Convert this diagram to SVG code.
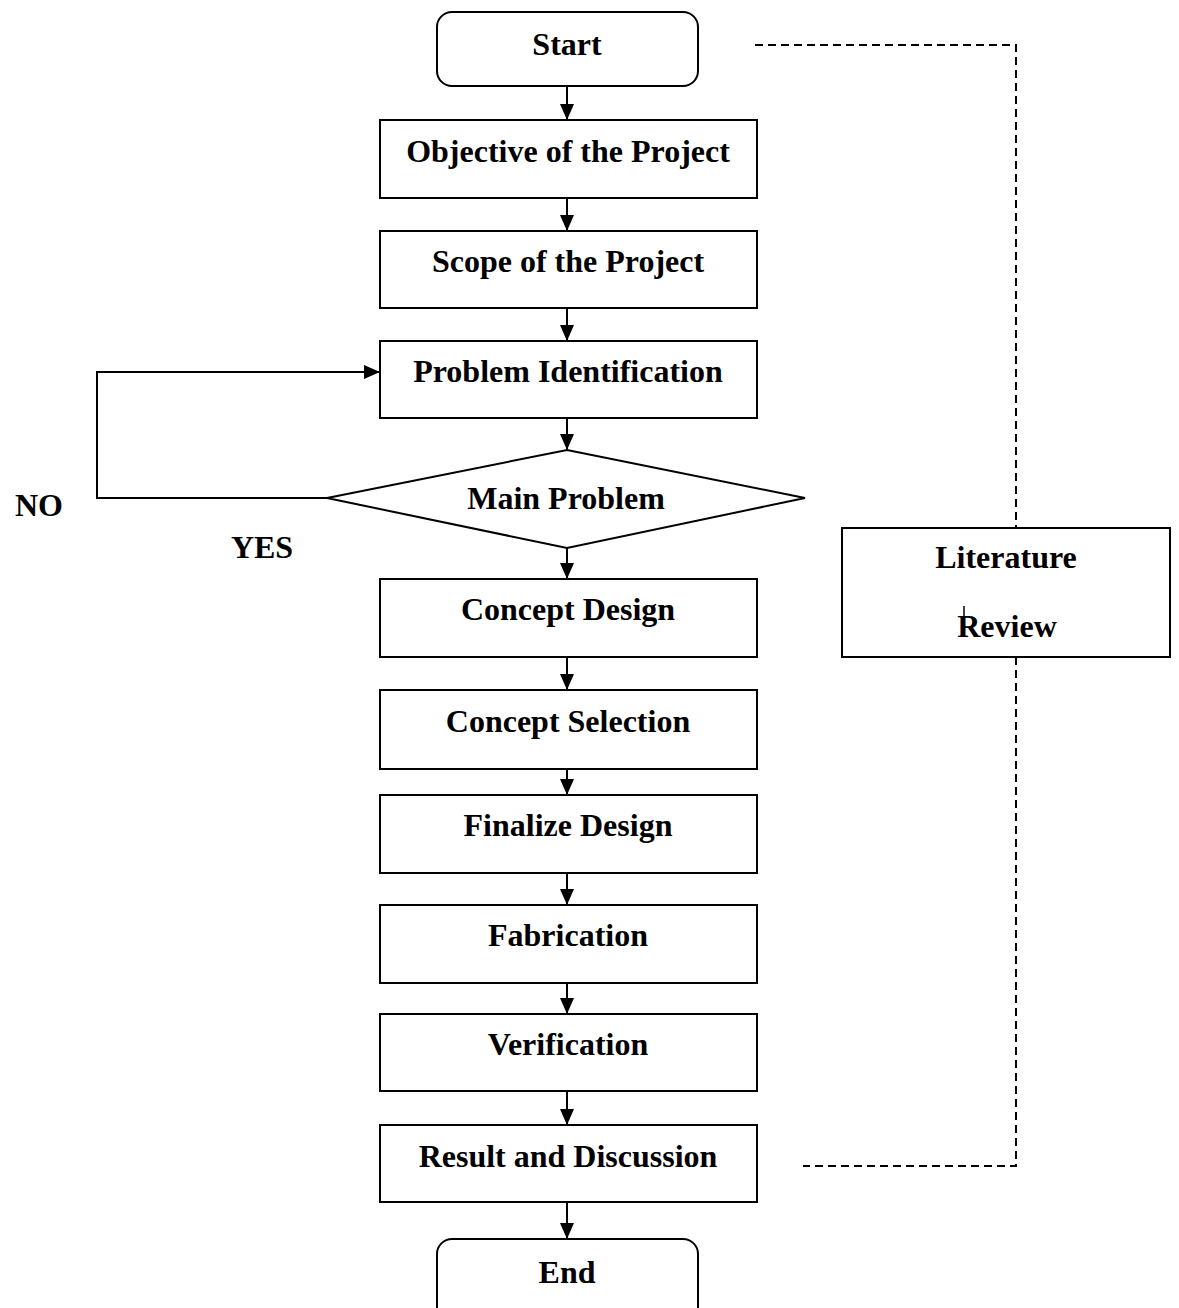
<svg xmlns="http://www.w3.org/2000/svg" width="1179" height="1308" viewBox="0 0 1179 1308">
<style>
.n{fill:#fff;stroke:#000;stroke-width:2}
.t{font-family:"Liberation Serif","Times New Roman",serif;font-weight:bold;font-size:32px;fill:#000;text-anchor:middle}
.c{fill:none;stroke:#000;stroke-width:2}
.d{fill:none;stroke:#000;stroke-width:2;stroke-dasharray:8 5}
</style>
<defs>
<marker id="ah" markerUnits="userSpaceOnUse" markerWidth="16" markerHeight="16" viewBox="0 0 16 16" refX="16" refY="8" orient="auto">
<path d="M0,1 L16,8 L0,15 z" fill="#000"/>
</marker>
</defs>
<rect width="1179" height="1308" fill="#fff"/>
<g id="connectors">
<line class="c" x1="567" y1="86" x2="567" y2="120" marker-end="url(#ah)"/>
<line class="c" x1="567" y1="198" x2="567" y2="231" marker-end="url(#ah)"/>
<line class="c" x1="567" y1="308" x2="567" y2="341" marker-end="url(#ah)"/>
<line class="c" x1="567" y1="418" x2="567" y2="450" marker-end="url(#ah)"/>
<line class="c" x1="567" y1="548" x2="567" y2="579" marker-end="url(#ah)"/>
<line class="c" x1="567" y1="657" x2="567" y2="690" marker-end="url(#ah)"/>
<line class="c" x1="567" y1="769" x2="567" y2="795" marker-end="url(#ah)"/>
<line class="c" x1="567" y1="873" x2="567" y2="905" marker-end="url(#ah)"/>
<line class="c" x1="567" y1="983" x2="567" y2="1014" marker-end="url(#ah)"/>
<line class="c" x1="567" y1="1091" x2="567" y2="1125" marker-end="url(#ah)"/>
<line class="c" x1="567" y1="1202" x2="567" y2="1239" marker-end="url(#ah)"/>
<polyline class="c" points="327,498 97,498 97,372 380,372" marker-end="url(#ah)"/>
<polyline class="d" points="755,45 1016,45 1016,528"/>
<polyline class="d" points="1016,657 1016,1166 803,1166"/>
</g>
<g id="start"><rect class="n" x="437" y="12" width="261" height="74" rx="15"/><text class="t" x="567" y="55">Start</text></g>
<g id="objective"><rect class="n" x="380" y="120" width="377" height="78"/><text class="t" x="568" y="162">Objective of the Project</text></g>
<g id="scope"><rect class="n" x="380" y="231" width="377" height="77"/><text class="t" x="568" y="272">Scope of the Project</text></g>
<g id="problem"><rect class="n" x="380" y="341" width="377" height="77"/><text class="t" x="568" y="382">Problem Identification</text></g>
<g id="main-problem"><polygon class="n" points="567,450 805,498 567,548 327,498"/><text class="t" x="566" y="509">Main Problem</text></g>
<g id="concept-design"><rect class="n" x="380" y="579" width="377" height="78"/><text class="t" x="568" y="620">Concept Design</text></g>
<g id="concept-selection"><rect class="n" x="380" y="690" width="377" height="79"/><text class="t" x="568" y="732">Concept Selection</text></g>
<g id="finalize"><rect class="n" x="380" y="795" width="377" height="78"/><text class="t" x="568" y="836">Finalize Design</text></g>
<g id="fabrication"><rect class="n" x="380" y="905" width="377" height="78"/><text class="t" x="568" y="946">Fabrication</text></g>
<g id="verification"><rect class="n" x="380" y="1014" width="377" height="77"/><text class="t" x="568" y="1055">Verification</text></g>
<g id="result"><rect class="n" x="380" y="1125" width="377" height="77"/><text class="t" x="568" y="1167">Result and Discussion</text></g>
<g id="end"><rect class="n" x="437" y="1239" width="261" height="84" rx="15"/><text class="t" x="567" y="1283">End</text></g>
<g id="literature"><rect class="n" x="842" y="528" width="328" height="129"/><text class="t" x="1006" y="568">Literature</text><text class="t" x="1007" y="637">Review</text><line x1="964" y1="606" x2="964" y2="617" stroke="#000" stroke-width="1.5"/></g>
<g id="labels"><text class="t" x="39" y="516">NO</text><text class="t" x="262" y="558">YES</text></g>
</svg>
